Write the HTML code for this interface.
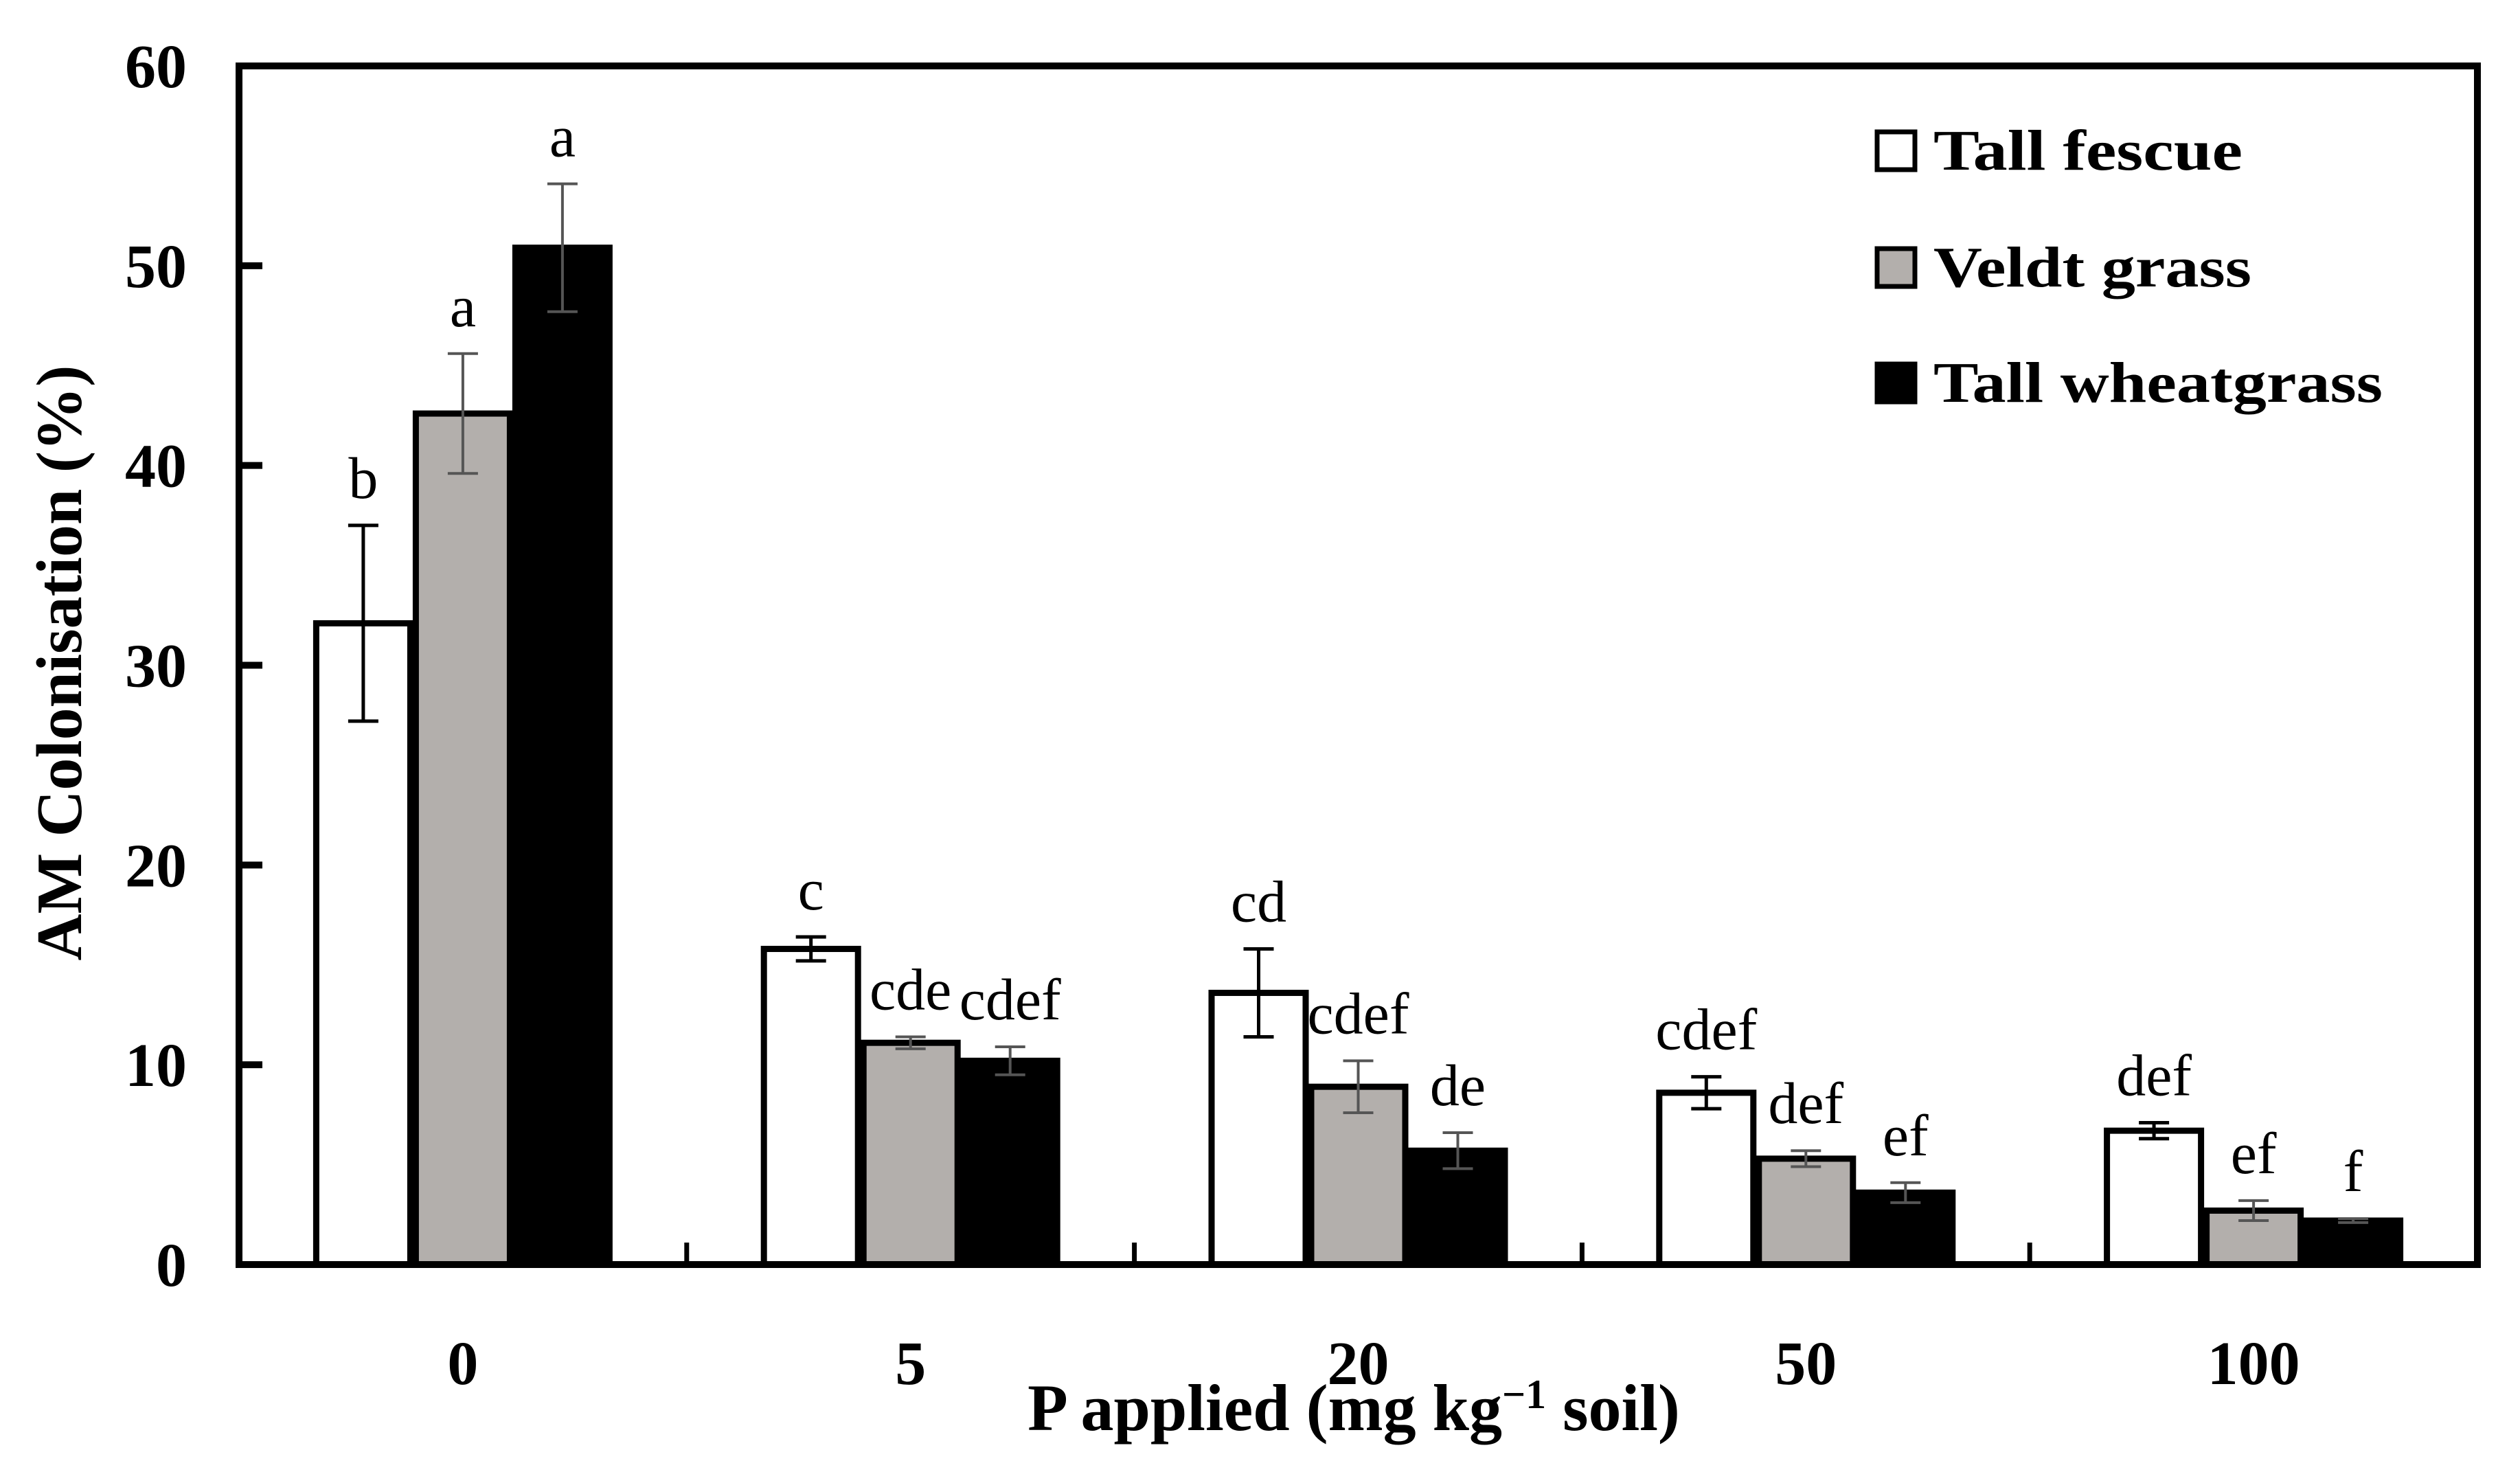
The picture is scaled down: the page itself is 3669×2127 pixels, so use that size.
<!DOCTYPE html>
<html><head><meta charset="utf-8"><style>
html,body{margin:0;padding:0;background:#fff;}
svg{display:block;font-family:"Liberation Serif",serif;}
</style></head><body>
<svg id="chart" width="3669" height="2127" viewBox="0 0 3669 2127">
<g id="plot"></g>
</svg>
<script>
const categories = ["0","5","20","50","100"];
const seriesNames = ["Tall fescue","Veldt grass","Tall wheatgrass"];
const tallFescue = [32.1, 15.8, 13.6, 8.6, 6.7];
const veldtGrass = [42.6, 11.1, 8.9, 5.3, 2.7];
const tallWheatgrass = [50.9, 10.2, 5.7, 3.6, 2.2];
const errFescue = [4.9, 0.6, 2.2, 0.8, 0.4];
const errVeldt = [3.0, 0.3, 1.3, 0.4, 0.5];
const errWheat = [3.2, 0.7, 0.9, 0.5, 0.1];
const lettersFescue = ["b","c","cd","cdef","def"];
const lettersVeldt = ["a","cde","cdef","def","ef"];
const lettersWheat = ["a","cdef","de","ef","f"];
const yTicks = [0,10,20,30,40,50,60];

const NS="http://www.w3.org/2000/svg";
const g=document.getElementById('plot');
const L=348,R=3607,T=96,B=1841,yMax=60;
const gw=(R-L)/categories.length, bw=145;
const fills=["#ffffff","#b3afac","#000000"];
const values=[tallFescue,veldtGrass,tallWheatgrass];
const errs=[errFescue,errVeldt,errWheat];
const letters=[lettersFescue,lettersVeldt,lettersWheat];
function y(v){return B-(v/yMax)*(B-T);}
function xc(i){return L+gw*(i+0.5);}
function mk(tag,attrs,parent){const e=document.createElementNS(NS,tag);for(const k in attrs)e.setAttribute(k,attrs[k]);(parent||g).appendChild(e);return e;}

for(let s=0;s<3;s++){
  for(let i=0;i<categories.length;i++){
    const x0=xc(i)-1.5*bw+s*bw, v=values[s][i];
    const r=mk('rect',{x:x0+4,y:y(v),width:bw-8,height:B-y(v),fill:fills[s],stroke:'#000','stroke-width':9});
    
    
    const cx=x0+bw/2, e=errs[s][i];
    const col=s===0?'#000':'#555';
    const eb=mk('path',{d:`M${cx},${y(v+e)}V${y(v-e)}M${cx-22},${y(v+e)}h44M${cx-22},${y(v-e)}h44`,stroke:col,'stroke-width':s===0?5:4,fill:'none'});
    
    
    const t=mk('text',{x:cx,y:y(v+e)-40,'text-anchor':'middle','font-size':86});
    t.textContent=letters[s][i];
    
    
  }
}
const ax=mk('rect',{x:L,y:T,width:R-L,height:B-T,fill:'none',stroke:'#000','stroke-width':10});


yTicks.forEach(v=>{
  const tk=mk('line',{x1:L,x2:L+34,y1:y(v),y2:y(v),stroke:'#000','stroke-width':10});
  
  
  const t=mk('text',{x:272,y:y(v)+31,'text-anchor':'end','font-size':90,'font-weight':'bold'});
  t.textContent=v;
  
  
});
for(let i=0;i<categories.length;i++){
  if(i>0){
    const d=mk('line',{x1:L+gw*i,x2:L+gw*i,y1:B,y2:B-32,stroke:'#000','stroke-width':7});
    
    
  }
  const t=mk('text',{x:xc(i),y:2015,'text-anchor':'middle','font-size':90,'font-weight':'bold'});
  t.textContent=categories[i];
  
  
}
const xt=mk('text',{x:1971,y:2082,'text-anchor':'middle','font-size':96,'font-weight':'bold'});
xt.innerHTML='P applied (mg kg<tspan dy="-32" font-size="60">−1</tspan><tspan dy="32"> soil)</tspan>';


const yt=mk('text',{x:0,y:0,'text-anchor':'middle','font-size':94,'font-weight':'bold',transform:'translate(118,965) rotate(-90)'});
yt.textContent='AM Colonisation (%)';


const legY=[188,358,526], legW=[450,463,654];
for(let s=0;s<3;s++){
  const lg=mk('g',{});
  
  
  mk('rect',{x:2733,y:legY[s]+4,width:55,height:55,fill:fills[s],stroke:'#000','stroke-width':7},lg);
  const t=mk('text',{x:2815,y:legY[s]+59,'font-size':84,'font-weight':'bold',textLength:legW[s],lengthAdjust:'spacingAndGlyphs'},lg);
  t.textContent=seriesNames[s];
}
</script>
</body></html>
